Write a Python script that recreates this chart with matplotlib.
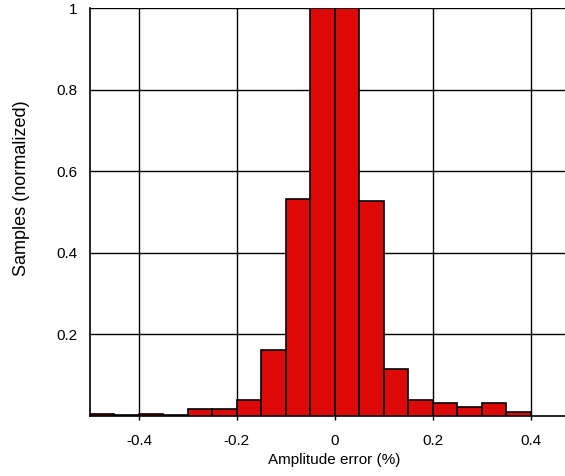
import matplotlib
matplotlib.use("Agg")
import matplotlib.pyplot as plt
import numpy as np

# Histogram of amplitude error, bins 0.05 wide
bin_edges = [-0.5, -0.45, -0.4, -0.35, -0.3, -0.25, -0.2, -0.15, -0.1, -0.05,
             0.0, 0.05, 0.1, 0.15, 0.2, 0.25, 0.3, 0.35, 0.4]
counts = [0.006, 0.003, 0.005, 0.003, 0.018, 0.018, 0.04, 0.162, 0.533, 1.0,
          1.0, 0.528, 0.115, 0.039, 0.031, 0.023, 0.031, 0.009]
x_ticks = [-0.4, -0.2, 0.0, 0.2, 0.4]
x_tick_labels = ["-0.4", "-0.2", "0", "0.2", "0.4"]
y_ticks = [0.2, 0.4, 0.6, 0.8, 1.0]
y_tick_labels = ["0.2", "0.4", "0.6", "0.8", "1"]

plt.rcParams["font.family"] = ["Liberation Sans", "DejaVu Sans"]

W, H = 565, 476
fig = plt.figure(figsize=(W / 100, H / 100), dpi=100)
ax = fig.add_axes([90 / W, 60 / H, 475 / W, 408 / H])

widths = np.diff(bin_edges)
ax.bar(bin_edges[:-1], counts, width=widths, align="edge",
       color="#dd0808", edgecolor="black", linewidth=1.2, zorder=3)

ax.set_xlim(-0.5, 0.47)
ax.set_ylim(0, 1)
ax.set_xticks(x_ticks)
ax.set_xticklabels(x_tick_labels)
ax.set_yticks(y_ticks)
ax.set_yticklabels(y_tick_labels)
ax.grid(True, color="black", linewidth=1.0, zorder=0)
ax.set_axisbelow(True)

ax.tick_params(axis="x", length=3, width=1, labelsize=11, pad=10)
ax.tick_params(axis="y", length=0, labelsize=11, pad=9)

for side in ("top", "right"):
    ax.spines[side].set_visible(False)
for side in ("left", "bottom"):
    ax.spines[side].set_linewidth(1.2)

# axis titles placed in pixel coordinates
fig.text(334 / W, 1 - 460 / H, "Amplitude error (%)", fontsize=11,
         ha="center", va="center")
fig.text(22 / W, 1 - 188 / H, "Samples (normalized)", fontsize=13,
         rotation=90, ha="center", va="center")

fig.savefig("out.png", dpi=100)
